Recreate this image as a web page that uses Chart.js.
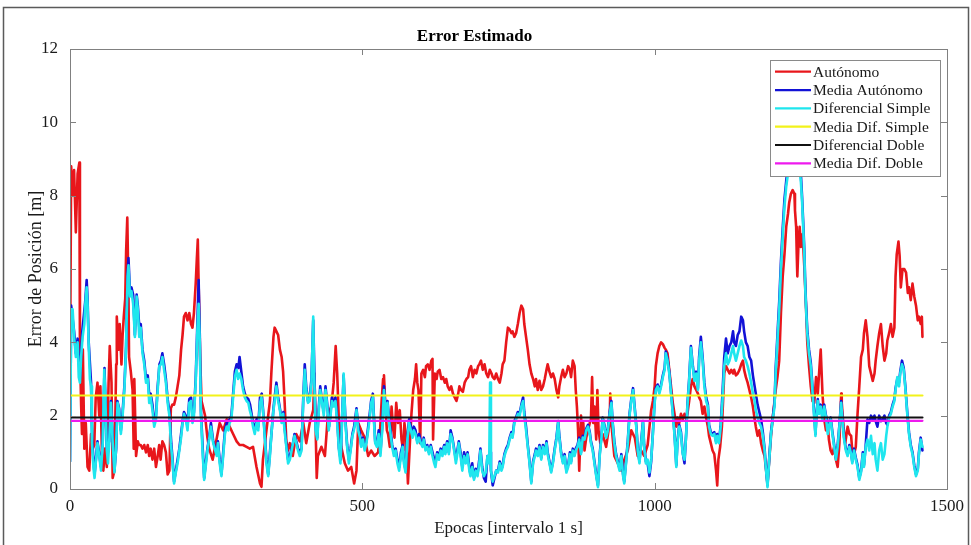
<!DOCTYPE html>
<html>
<head>
<meta charset="utf-8">
<script src="https://cdn.jsdelivr.net/npm/chart.js@4.4.1/dist/chart.umd.min.js"></script>
<style>
  html, body { margin: 0; padding: 0; background: #ffffff; }
  #wrap { width: 971px; height: 545px; }
</style>
</head>
<body>
<div id="wrap"><canvas id="grafico" width="971" height="545"></canvas></div>
<script>
// Error de posición por época: [época, error en metros]
const autonomo = [
  [0,3.1],[2,8.8],[4.5,8.0],[7,8.7],[10,7.0],[13,8.6],[16,8.9],[17,3.8],[19,2.3],[20.5,1.5],[22,3.8],[24.5,1.1],[27,1.8],[30,0.6],[33,0.5],[36,1.5],[39,1.1],[41.5,1.2],[44,2.5],[47,2.9],[50,2.0],[52,2.8],[55,0.7],[57,0.5],[60,1.1],[63,0.6],[66,2.9],[68,3.9],[71,2.9],[73,0.3],[76,0.5],[79,3.4],[80,4.7],[83,3.8],[85,4.5],[88,3.4],[90,4.2],[92,4.7],[94.5,5.2],[96,6.5],[98,7.4],[100,5.4],[101,3.6],[104,3.2],[107,2.7],[109,1.1],[110,3.0],[113,0.9],[116,1.3],[118,1.2],[121,1.2],[124,1.1],[127,1.2],[130,1.0],[133,1.2],[135.5,0.9],[138,1.1],[141,0.8],[144,1.1],[147,0.6],[150,0.9],[152.6,1.2],[155,0.8],[158,1.3],[161,1.2],[164,1.0],[167,0.4],[170,0.5],[172.5,2.2],[175,2.3],[178,2.3],[181,2.5],[184,2.8],[187,3.1],[190,3.8],[192.5,4.2],[195,4.7],[198,4.8],[201,4.6],[204,4.8],[207,4.5],[209.5,4.4],[212,4.8],[215,5.6],[217,6.3],[218.6,6.8],[220,5.6],[222.6,3.6],[225,2.4],[228,2.2],[231,2.0],[235,1.4],[238,1.1],[244,0.8],
  [250,1.3],[256,1.8],[262,1.6],[268,1.9],[273,1.7],[279,1.5],[285,1.3],[290,1.2],[296,1.2],[302,1.15],[307.5,1.1],[313,1.15],[319,0.6],[325,0.15],[327.5,0.06],[330,0.8],[336,1.6],[342,2.4],[344.5,3.2],[348,4.15],[350,4.4],[353,4.3],[356,4.2],[359,3.8],[362,3.6],[364.5,3.2],[367,2.4],[370,1.3],[373,1.05],[376,1.25],[381,0.9],[387,1.5],[393,1.3],[399,1.8],[404,1.25],[410,1.8],[416,2.15],[418,3.15],[422,0.3],[424,0.9],[430,1.15],[436,0.9],[441,2.0],[447,2.25],[451,2.9],[454.4,3.9],[457,3.15],[460,1.8],[464,1.15],[470,0.7],[475.5,0.5],[481,0.6],[486,0.15],[490,0.5],
  [493,1.8],[498,1.6],[504,1.4],[510,0.9],[515,1.05],[521,0.9],[527,1.0],[530,1.5],[533,2.4],[535.5,3.0],[537,3.1],[539.5,2.25],[542,1.6],[544,1.5],[547,1.15],[550,2.25],[553,1.6],[555,1.4],[558,2.35],[561,1.8],[564,2.15],[567,1.35],[570,1.05],[572,1.8],[575,1.4],[578,0.15],[581,1.15],[584,2.05],[587,2.7],[590,3.0],[592,3.4],[594,2.9],[596,2.7],[599,1.25],[601,3.15],[604,3.25],[607,3.05],[609,3.35],[612,3.4],[615,3.25],[618,3.5],[620,3.55],[621,1.35],[624,3.15],[627,3.0],[629,3.2],[632,3.25],[635,3.0],[638,3.05],[641,2.9],[643.5,3.0],[646,2.8],[649,2.7],[652,2.8],[655,2.6],[658,2.5],[661,2.4],[664,2.6],[666,2.8],[669,2.7],[672,2.65],[675,2.9],[678,3.0],[681,3.05],[683,3.25],[686,3.35],[689,3.05],[692,3.25],[695,3.15],[698,3.35],[700,3.4],[703,3.5],[706,3.25],[709,3.4],[712,3.15],[715,3.05],[718,3.25],[721,3.15],[723,3.05],[726,3.0],[729,3.15],[732,3.0],[735,2.9],[738,3.15],[740,3.4],
  [743,3.5],[746,4.0],[749,4.4],[752,4.35],[755,4.25],[757,4.3],[760,4.15],[763,4.25],[766,4.5],[769,4.8],[772,5.0],[775,4.9],[777,4.5],[780,4.15],[783,3.8],[786,3.4],[789,3.15],[792,3.0],[795,2.8],[797,3.0],[800,2.7],[803,2.95],[806,2.7],[809,2.8],[812,3.0],[815,3.25],[817,3.4],[820,3.2],[823,3.05],[826,3.15],[829,3.0],[832,2.7],[835,2.5],[837,2.8],[840,3.05],[843,3.25],[846,3.05],[849,3.15],[852,3.35],[855,3.25],[857,3.05],[860,3.5],[863,3.35],[865,2.7],[867,2.25],[869,1.6],[871,0.5],[874,2.0],[876,1.35],[878,1.8],[880,1.05],[883,1.4],[886,1.6],[889,1.8],[891,1.9],[893,3.05],[895,1.8],[897,2.25],[900,1.35],[902,2.7],[904,1.6],[907,1.25],[911,1.5],[917,1.15],[923,1.8],[924,2.6],[927,1.6],[931,0.9],[937,0.7],[943,0.5],[948,0.8],[954,1.05],[960,1.6],[966,1.4],[971,0.9],[977,1.05],[982,0.9],[988,1.2],
  [994,2.15],[997,2.4],[1000,2.8],[1002,3.35],[1005,3.7],[1008,3.9],[1011,4.0],[1014,3.95],[1017,3.85],[1019,3.8],[1022,3.7],[1025,3.25],[1028,2.8],[1031,2.35],[1034,2.05],[1037,1.7],[1039,1.95],[1042,1.8],[1045,2.05],[1048,1.9],[1051,2.05],[1054,1.9],[1056,2.05],[1059,2.4],[1062,2.8],[1065,3.0],[1068,2.8],[1071,2.7],[1074,2.6],[1076,2.5],[1079,2.4],[1082,2.05],[1085,2.25],[1088,1.95],[1091,1.7],[1093,1.45],[1096,1.25],[1099,1.05],[1102,0.95],[1105,0.5],[1107,0.1],[1109,0.8],[1112,1.15],[1115,1.7],[1117,2.4],[1119,3.15],[1122,3.35],[1125,3.25],[1128,3.15],[1131,3.25],[1134,3.15],[1136,3.25],[1139,3.1],[1142,3.15],[1145,3.25],[1148,3.4],[1151,3.5],[1153,3.25],[1156,3.05],[1159,2.9],[1162,2.7],[1165,2.5],[1168,2.25],[1171,1.9],[1173,1.7],[1176,1.45],[1179,1.6],[1182,1.25],[1185,1.05],[1188,0.9],[1190,0.6],[1193,0.15],[1196,0.8],[1199,1.45],[1202,1.95],[1205,2.4],[1207,2.7],[1210,3.05],[1213,3.5],[1216,4.8],[1219,5.8],[1222,6.4],[1225,7.15],[1228,7.5],[1230,7.8],[1233,8.05],[1236,8.15],
  [1239,8.05],[1240,7.6],[1242,7.15],[1243,6.4],[1244,5.8],[1246,6.7],[1248,7.15],[1250,6.6],[1253,6.95],[1256,6.05],[1259,4.9],[1261,4.0],[1264,3.35],[1267,2.8],[1270,2.4],[1273,2.35],[1276,3.05],[1279,2.6],[1282,3.35],[1284,3.8],[1287,2.6],[1290,1.9],[1293,1.6],[1296,1.8],[1298,1.35],[1301,1.05],[1304,0.95],[1307,1.15],[1310,0.8],[1313,0.6],[1316,1.25],[1319,2.6],[1320,2.35],[1323,1.7],[1326,1.25],[1330,1.7],[1333,1.5],[1336,1.45],[1338,1.05],[1341,0.95],[1344,1.15],[1347,2.05],[1350,2.8],[1353,3.6],[1356,3.8],[1358,4.25],[1361,4.6],[1364,4.15],[1367,3.35],[1370,3.15],[1373,2.95],[1376,3.15],[1378,3.5],[1381,3.9],[1384,4.25],[1387,4.5],[1390,3.9],[1393,3.5],[1396,3.7],[1398,4.05],[1401,4.25],[1404,4.5],[1407,4.15],[1410,4.4],[1412,5.8],[1414,6.4],[1417,6.75],[1419,6.35],[1421,5.5],[1424,6.0],[1427,6.0],[1430,5.9],[1433,5.35],[1435,5.5],[1438,5.15],[1441,5.6],[1444,5.25],[1447,5.0],[1450,4.6],[1452,4.7],[1455,4.5],[1457,4.7],[1458,4.15]
];

const mediaAutonomo = [
  [0,0.75],[2,5.0],[7,4.3],[10,3.7],[13,4.1],[17,3.0],[21,4.3],[26,5.1],[28.5,5.7],[30,5.2],[32,4.0],[36,2.9],[38,1.3],[42,0.4],[47,1.3],[53,0.6],[56,1.3],[59,3.3],[63,1.1],[67,1.3],[70,2.4],[73,1.3],[76,0.5],[79,1.1],[81,2.4],[84,2.2],[87,1.6],[90,2.1],[93,2.8],[96,3.9],[98.5,5.9],[100,6.3],[102.5,5.4],[105,5.5],[108,5.3],[111,4.2],[114,5.3],[116,5.0],[119,4.3],[121,4.5],[124,3.8],[127,3.5],[130,3.0],[133,3.1],[136,2.45],[138,2.6],[141,2.3],[144,1.8],[147,2.0],[150,2.8],[153,3.4],[155.5,3.5],[158,3.7],[161,3.4],[164,3.0],[167,2.45],[170,2.1],[173,1.3],[175,0.9],[178,0.2],[181,0.5],[184,0.8],[187,1.1],[190,1.5],[193,1.9],[195,2.1],[198,2.0],[201,1.7],[204,2.45],[207,2.5],[210,1.9],[212,2.1],[215,3.0],[218,4.6],[220,5.7],[222,4.2],[224,2.1],[227,1.1],[229.5,0.3],[232,0.7],[235,1.1],[238,1.4],[241,1.8],[245,1.3],
  [251,0.95],[253,1.3],[256,0.8],[259,0.4],[262,1.0],[265,1.6],[268,1.8],[273,1.9],[276,2.0],[279,2.6],[282,3.2],[285,3.4],[288,3.3],[290,3.6],[293,3.2],[296,2.8],[299,2.6],[302,2.5],[305,2.45],[308,2.3],[310,2.1],[313,1.8],[316,1.6],[319,1.9],[322,1.7],[325,2.5],[328,2.6],[330,2.2],[333,1.5],[336,0.8],[339,0.4],[342,1.0],[345,1.6],[348,2.2],[350,2.5],[353,2.9],[356,2.5],[359,2.2],[362,1.9],[365,2.1],[367,1.7],[370,1.2],[373,0.8],[376,0.9],[379,1.1],[382,1.3],[384,1.5],[387,1.3],[390,1.1],[393,1.0],[396,1.1],[399,2.5],[401.5,3.4],[404,2.8],[407,2.4],[410,2.5],[413,3.0],[416,4.6],[418,3.2],[420,1.7],[423,1.4],[425,2.1],[428,2.8],[431,2.4],[434,2.1],[437,2.8],[440,2.3],[443,1.7],[445,2.0],[448,2.5],[451,2.3],[454,2.5],[457,1.9],[460,1.1],[463,0.8],[465,1.8],[468,3.1],[471,1.9],[474,1.2],[477,0.8],[480,1.1],[483,1.5],[486,1.7],
  [490,2.2],[493,1.7],[496,1.5],[498,1.2],[501,1.4],[504,1.1],[507,1.3],[510,1.7],[513,2.1],[515,2.4],[518,2.6],[520,1.9],[522,1.3],[525,1.2],[528,1.6],[531,1.0],[534,1.7],[537,2.8],[540,2.1],[543,2.4],[546,1.9],[549,1.5],[551,1.2],[554,1.0],[557,1.1],[560,0.8],[563,0.6],[566,1.0],[569,1.2],[571,0.8],[574,0.5],[577,1.4],[580,1.9],[583,1.7],[586,1.5],[588,1.7],[591,1.6],[594,1.3],[597,1.5],[600,1.3],[603,1.2],[605,1.4],[608,1.1],[611,1.2],[614,1.0],[617,1.2],[620,1.0],[623,0.8],[625,0.7],[628,1.0],[631,0.9],[634,1.1],[637,1.0],[640,1.2],[642,1.0],[645,1.3],[648,1.0],[651,1.6],[654,1.4],[657,1.1],[660,0.8],[662,1.0],[665,1.3],[668,1.0],[671,0.6],[674,1.0],[677,0.8],[680,1.0],[683,0.6],[685,0.4],[688,0.7],[691,0.3],[694,0.55],[697,0.4],[700,0.8],[702,1.1],[705,0.6],[708,0.3],[711,0.2],[714,0.9],[717,0.8],[719,1.0],[720,0.5],[723,0.1],[726,0.3],[729,0.5],[732,0.5],[735,0.75],[738,0.55],
  [740,0.65],[743,0.95],[746,1.1],[749,1.2],[752,1.4],[755,1.55],[757,1.45],[760,1.85],[763,1.95],[766,2.1],[769,2.05],[772,2.3],[775,2.5],[777,2.1],[780,1.7],[783,1.2],[786,0.75],[789,0.2],[792,0.75],[795,0.95],[797,1.1],[800,0.95],[803,1.2],[806,0.85],[809,1.2],[812,1.0],[815,1.3],[817,1.0],[820,0.75],[823,0.5],[826,0.75],[829,1.1],[832,1.4],[835,1.85],[837,1.45],[840,1.0],[843,0.75],[846,0.95],[849,0.5],[852,0.65],[855,1.0],[857,0.75],[860,1.1],[863,0.95],[865,1.1],[868,1.2],[871,1.4],[874,1.0],[877,1.45],[880,1.4],[883,1.65],[886,1.75],[889,1.55],[891,1.3],[894,1.1],[897,0.75],[900,0.4],[903,0.1],[906,0.95],[909,1.45],[911,1.95],[914,1.75],[917,1.45],[920,1.65],[923,2.1],[926,2.4],[928,1.85],[931,1.3],[934,0.95],[937,0.75],[940,0.55],[943,0.95],[946,0.4],[948,0.2],[951,0.75],[954,1.3],[957,2.05],[960,2.45],[963,2.75],[966,2.2],[969,1.65],[971,1.1],[974,0.75],[977,1.3],[980,1.85],[982,1.2],[985,0.75],
  [988,0.7],[991,0.35],[994,0.75],[997,1.55],[1000,2.4],[1002,2.75],[1005,2.85],[1008,2.65],[1011,2.85],[1014,3.1],[1017,3.3],[1019,3.75],[1022,3.55],[1025,3.2],[1028,2.65],[1031,2.1],[1034,1.5],[1037,0.65],[1039,1.3],[1042,1.75],[1045,1.55],[1048,1.0],[1051,0.7],[1054,1.55],[1056,2.3],[1059,3.0],[1062,3.9],[1065,3.4],[1068,3.0],[1071,3.2],[1074,2.75],[1076,3.6],[1079,4.15],[1082,3.6],[1085,2.9],[1088,2.5],[1091,2.3],[1093,1.75],[1096,1.55],[1099,1.5],[1102,1.55],[1105,1.3],[1107,1.5],[1110,1.3],[1113,1.75],[1116,2.6],[1119,3.6],[1122,4.1],[1125,3.7],[1128,3.9],[1131,4.0],[1134,4.3],[1136,4.0],[1139,3.9],[1142,4.2],[1145,4.3],[1148,4.7],[1151,4.6],[1153,4.3],[1156,4.0],[1159,3.9],[1162,3.6],[1165,3.5],[1168,3.1],[1171,2.8],[1173,2.6],[1176,2.3],[1179,2.1],[1182,1.9],[1185,1.55],[1188,1.1],[1190,0.65],[1193,0.1],[1196,0.85],[1199,1.55],[1202,1.95],[1205,2.35],[1207,3.3],[1210,4.2],[1213,5.1],[1216,6.2],[1219,7.1],[1222,7.9],[1225,8.4],[1228,8.8],[1232,9.3],[1238,9.1],[1244,9.2],
  [1250,8.6],[1252,8.0],[1254,7.3],[1256,6.5],[1257.5,5.6],[1259,5.0],[1261,4.35],[1264,3.8],[1267,3.45],[1269,3.0],[1271,2.5],[1273,2.0],[1275,1.5],[1277,2.1],[1279,2.45],[1281,2.1],[1284,2.3],[1287,1.95],[1290,2.3],[1293,2.0],[1296,1.8],[1298,1.75],[1301,1.95],[1304,1.55],[1307,1.2],[1310,0.85],[1313,1.2],[1316,1.75],[1319,2.4],[1321,1.95],[1324,1.4],[1327,1.1],[1330,0.95],[1333,1.2],[1336,1.0],[1338,0.75],[1341,1.1],[1344,0.85],[1347,0.65],[1350,0.3],[1353,0.5],[1356,1.0],[1358,0.65],[1361,1.2],[1364,1.9],[1367,1.8],[1370,2.0],[1373,1.9],[1376,2.0],[1378,1.85],[1381,1.7],[1384,2.0],[1387,1.85],[1390,1.9],[1393,2.0],[1396,1.8],[1398,1.75],[1401,2.0],[1404,2.1],[1407,2.3],[1410,2.45],[1412,2.75],[1415,3.0],[1418,2.9],[1420,3.2],[1423,3.5],[1426,3.3],[1429,2.75],[1432,2.1],[1435,1.55],[1438,1.2],[1441,1.0],[1444,0.65],[1447,0.4],[1450,0.55],[1452,1.0],[1455,1.4],[1458,1.05]
];

const diferencialSimple = [
  [0,0.75],[2,4.9],[4.5,4.9],[7,4.15],[10,3.6],[13,4.0],[15,3.05],[17,2.9],[19,3.6],[21.6,4.15],[24.5,4.5],[26,5.0],[28.5,5.5],[30,5.05],[32,3.9],[34,3.0],[36,2.8],[37.6,1.25],[40,0.6],[42,0.3],[44,0.7],[47,1.25],[50,0.9],[53,0.5],[56,1.25],[58.6,3.25],[60,2.7],[63,1.05],[65,0.7],[67,1.25],[70,2.35],[73,1.25],[76,0.45],[78.6,1.05],[81.4,2.35],[84,2.15],[87,1.5],[90,2.0],[93,2.7],[95.7,3.8],[98.5,5.8],[100,6.1],[102.5,5.25],[105,5.4],[108,5.05],[111,4.15],[114,5.25],[116,4.9],[118.5,4.15],[121,4.4],[124,3.7],[127,3.4],[130,2.9],[133,3.0],[135.5,2.35],[138,2.5],[141,2.15],[144,1.7],[147,1.9],[150,2.7],[152.6,3.35],[155.5,3.4],[158,3.6],[161,3.25],[164,2.9],[167,2.35],[170,2.0],[172.5,1.25],[175,0.8],[178,0.15],[181,0.45],[184,0.7],[187,1.05],[190,1.4],[192.5,1.8],[195,2.05],[198,1.9],[201,1.6],[204,2.35],[207,2.4],[209.5,1.8],[212,2.0],[215,2.9],[218,4.4],[220,5.05],[222,4.0],[224,2.0],[226.6,1.05],[229.5,0.25],[232,0.6],[235,1.05],[238,1.35],[241,1.7],[244,1.35],
  [245,1.25],[251,0.9],[253,1.25],[256,0.7],[259,0.35],[262,0.9],[265,1.5],[268,1.7],[271,1.6],[273,1.8],[276,1.9],[279,2.5],[282,3.05],[285,3.25],[287.5,3.0],[290,3.15],[293,3.0],[296,2.7],[299,2.5],[302,2.4],[305,2.35],[307.5,2.15],[310,2.0],[313,1.7],[316,1.5],[319,1.8],[322,1.6],[325,2.35],[327.5,2.5],[330,2.15],[333,1.45],[336,0.7],[339,0.35],[342,0.9],[344.5,1.5],[348,2.15],[350,2.4],[353,2.8],[356,2.4],[359,2.15],[362,1.8],[364.5,2.05],[367,1.6],[370,1.15],[373,0.7],[376,0.8],[379,1.05],[381.5,1.25],[384,1.45],[387,1.25],[390,1.05],[393,0.9],[396,1.05],[399,2.4],[401.5,3.25],[404,2.7],[407,2.35],[410,2.4],[413,2.9],[416,4.7],[417.5,3.15],[420,1.6],[423,1.35],[425,2.0],[428,2.7],[431,2.35],[434,2.0],[437,2.7],[440,2.25],[442.5,1.6],[445,1.9],[448,2.4],[451,2.25],[454,2.4],[457,1.8],[460,1.05],[462.5,0.7],[465,1.7],[468,3.15],[471,1.8],[474,1.15],[477,0.7],[480,1.05],[483,1.45],[485.5,1.6],[488,1.8],
  [490,2.15],[493,1.6],[496,1.4],[498,1.15],[501,1.35],[504,1.05],[507,1.25],[510,1.6],[513,2.0],[515,2.35],[518,2.5],[520,1.8],[522,1.25],[525,1.15],[528,1.5],[531,0.9],[534,1.6],[537,2.7],[540,2.0],[543,2.35],[546,1.8],[549,1.4],[551,1.15],[554,0.9],[557,1.05],[560,0.7],[563,0.5],[566,0.9],[569,1.15],[571,0.7],[574,0.45],[577,1.35],[580,1.8],[583,1.6],[586,1.4],[588,1.6],[591,1.5],[594,1.25],[597,1.4],[600,1.25],[603,1.15],[605,1.35],[608,1.05],[611,1.15],[614,0.95],[617,1.15],[620,0.9],[623,0.7],[625,0.6],[628,0.95],[631,0.8],[634,1.05],[637,0.9],[640,1.15],[642,0.95],[645,1.25],[648,0.95],[651,1.5],[654,1.35],[657,1.05],[660,0.7],[662,0.9],[665,1.25],[668,0.9],[671,0.5],[674,0.9],[677,0.7],[680,0.95],[683,0.5],[685,0.35],[688,0.6],[691,0.25],[694,0.5],[697,0.35],[700,0.7],[702,1.05],[705,0.5],[708,0.35],[711,0.45],[714,0.9],[717,0.7],[718.5,2.9],[720,0.5],[723,0.2],[726,0.35],[729,0.5],[732,0.45],[735,0.7],[738,0.5],
  [740,0.6],[743,0.9],[746,1.05],[749,1.15],[752,1.35],[755,1.5],[757,1.4],[760,1.8],[763,1.9],[766,2.05],[769,2.0],[772,2.25],[775,2.4],[777,2.0],[780,1.6],[783,1.15],[786,0.7],[789,0.15],[792,0.7],[795,0.9],[797,1.05],[800,0.9],[803,1.15],[806,0.8],[809,1.15],[812,0.95],[815,1.25],[817,0.95],[820,0.7],[823,0.45],[826,0.7],[829,1.05],[832,1.35],[835,1.8],[837,1.4],[840,0.95],[843,0.7],[846,0.9],[849,0.45],[852,0.6],[855,0.95],[857,0.7],[860,1.05],[863,0.9],[865,1.05],[868,1.15],[871,1.35],[874,0.95],[877,1.4],[880,1.35],[883,1.6],[886,1.7],[889,1.5],[891,1.25],[894,1.05],[897,0.7],[900,0.35],[903,0.05],[906,0.9],[909,1.4],[911,1.9],[914,1.7],[917,1.4],[920,1.6],[923,2.05],[926,2.35],[928,1.8],[931,1.25],[934,0.9],[937,0.7],[940,0.5],[943,0.9],[946,0.35],[948,0.15],[951,0.7],[954,1.25],[957,2.0],[960,2.4],[963,2.7],[966,2.15],[969,1.6],[971,1.05],[974,0.7],[977,1.25],[980,1.8],[982,1.15],[985,0.7],
  [988,0.8],[991,0.45],[994,0.8],[997,1.5],[1000,2.35],[1002,2.7],[1005,2.8],[1008,2.6],[1011,2.8],[1014,3.05],[1017,3.25],[1019,3.7],[1022,3.5],[1025,3.15],[1028,2.6],[1031,2.05],[1034,1.45],[1037,0.6],[1039,1.25],[1042,1.7],[1045,1.5],[1048,0.95],[1051,0.8],[1054,1.5],[1056,2.25],[1059,2.95],[1062,3.85],[1065,3.35],[1068,2.95],[1071,3.15],[1074,2.7],[1076,3.5],[1079,4.0],[1082,3.5],[1085,2.8],[1088,2.4],[1091,2.25],[1093,1.7],[1096,1.5],[1099,1.45],[1102,1.5],[1105,1.25],[1107,1.45],[1110,1.25],[1113,1.7],[1116,2.4],[1119,3.35],[1122,3.7],[1125,3.4],[1128,3.5],[1131,3.7],[1134,3.9],[1136,3.7],[1139,3.5],[1142,3.7],[1145,3.9],[1148,4.05],[1151,3.9],[1153,3.6],[1156,3.5],[1159,3.35],[1162,3.15],[1165,2.9],[1168,2.6],[1171,2.4],[1173,2.15],[1176,1.95],[1179,1.8],[1182,1.7],[1185,1.45],[1188,1.05],[1190,0.6],[1193,0.05],[1196,0.8],[1199,1.5],[1202,1.9],[1205,2.25],[1207,3.15],[1210,4.05],[1213,4.9],[1216,6.0],[1219,6.9],[1222,7.7],[1225,8.25],[1228,8.6],[1234,9.1],[1240,8.9],[1246,9.0],
  [1250,8.4],[1252,7.9],[1254,7.15],[1256,6.4],[1257.5,5.5],[1259,4.9],[1261,4.25],[1264,3.7],[1267,3.35],[1269,2.9],[1271,2.4],[1273,1.9],[1275,1.45],[1277,2.05],[1279,2.4],[1281,2.05],[1284,2.25],[1287,1.9],[1290,2.25],[1293,1.95],[1296,1.5],[1298,1.7],[1301,1.9],[1304,1.5],[1307,1.15],[1310,0.8],[1313,1.15],[1316,1.7],[1319,2.35],[1321,1.9],[1324,1.35],[1327,1.05],[1330,0.9],[1333,1.15],[1336,0.95],[1338,0.7],[1341,1.05],[1344,0.8],[1347,0.6],[1350,0.25],[1353,0.45],[1356,0.95],[1358,0.6],[1361,1.15],[1364,1.35],[1367,1.05],[1370,1.45],[1373,0.95],[1376,1.25],[1378,0.8],[1381,0.5],[1384,1.05],[1387,1.25],[1390,0.8],[1393,0.95],[1396,1.45],[1398,1.7],[1401,1.95],[1404,2.05],[1407,2.25],[1410,2.4],[1412,2.7],[1415,3.05],[1418,2.8],[1420,3.15],[1423,3.4],[1426,3.25],[1429,2.7],[1432,2.05],[1435,1.5],[1438,1.15],[1441,0.95],[1444,0.6],[1447,0.35],[1450,0.5],[1452,0.95],[1455,1.35],[1458,1.15]
];

// Niveles constantes (medias) y extensión del registro
const mediaDifSimple = 2.55;
const diferencialDoble = 1.95;
const mediaDifDoble = 1.86;
const epocaInicial = 0;
const epocaFinal = 1458;

const ejeX = { min: 0, max: 1500, paso: 500 };
const ejeY = { min: 0, max: 12, paso: 2 };

const aPuntos = pares => pares.map(([x, y]) => ({ x, y }));
const constante = v => [{ x: epocaInicial, y: v }, { x: epocaFinal, y: v }];

const SERIF = "'Liberation Serif', 'Times New Roman', serif";

const lineaBase = { pointRadius: 0, pointHoverRadius: 0, tension: 0, fill: false, borderJoinStyle: 'round', borderCapStyle: 'round' };

const datasets = [
  { ...lineaBase, label: 'Autónomo', data: aPuntos(autonomo), borderColor: '#e8161b', borderWidth: 2.6, order: 6 },
  { ...lineaBase, label: 'Media Autónomo', data: aPuntos(mediaAutonomo), borderColor: '#1212d6', borderWidth: 2.6, order: 5 },
  { ...lineaBase, label: 'Diferencial Simple', data: aPuntos(diferencialSimple), borderColor: '#1fe6ee', borderWidth: 2.6, order: 4 },
  { ...lineaBase, label: 'Media Dif. Simple', data: constante(mediaDifSimple), borderColor: '#f2f21a', borderWidth: 2.2, order: 3 },
  { ...lineaBase, label: 'Diferencial Doble', data: constante(diferencialDoble), borderColor: '#111111', borderWidth: 2.2, order: 2 },
  { ...lineaBase, label: 'Media Dif. Doble', data: constante(mediaDifDoble), borderColor: '#ee1aee', borderWidth: 2.2, order: 1 }
];

// Marco de la figura, caja de ejes con marcas interiores y leyenda
const estiloMatlab = {
  id: 'estiloMatlab',
  beforeDraw(chart) {
    const c = chart.ctx;
    c.save();
    c.fillStyle = '#ffffff';
    c.fillRect(0, 0, chart.width, chart.height);
    c.strokeStyle = '#5a5a5a';
    c.lineWidth = 1.5;
    c.strokeRect(3.5, 7.5, chart.width - 6, chart.height + 20);
    c.restore();
  },
  afterDatasetsDraw(chart) {
    const c = chart.ctx;
    const a = chart.chartArea;
    const sx = chart.scales.x, sy = chart.scales.y;
    c.save();
    c.strokeStyle = '#808080';
    c.lineWidth = 1;
    c.strokeRect(Math.round(a.left) + 0.5, Math.round(a.top) + 0.5, Math.round(a.right - a.left), Math.round(a.bottom - a.top));
    const L = 6;
    c.beginPath();
    sx.ticks.forEach(t => {
      const px = Math.round(sx.getPixelForValue(t.value)) + 0.5;
      c.moveTo(px, a.bottom); c.lineTo(px, a.bottom - L);
      c.moveTo(px, a.top); c.lineTo(px, a.top + L);
    });
    sy.ticks.forEach(t => {
      const py = Math.round(sy.getPixelForValue(t.value)) + 0.5;
      c.moveTo(a.left, py); c.lineTo(a.left + L, py);
      c.moveTo(a.right, py); c.lineTo(a.right - L, py);
    });
    c.stroke();
    c.restore();
  },
  afterDraw(chart) {
    const c = chart.ctx;
    const a = chart.chartArea;
    const w = 170, h = 116;
    const x0 = Math.round(a.right) - 177, y0 = Math.round(a.top) + 11;
    c.save();
    c.fillStyle = '#ffffff';
    c.fillRect(x0, y0, w, h);
    c.strokeStyle = '#8a8a8a';
    c.lineWidth = 1;
    c.strokeRect(x0 + 0.5, y0 + 0.5, w, h);
    c.font = '15.5px ' + SERIF;
    c.textBaseline = 'middle';
    c.textAlign = 'left';
    chart.data.datasets.forEach((ds, i) => {
      const y = y0 + 11.7 + i * 18.33;
      c.strokeStyle = ds.borderColor;
      c.lineWidth = 2.2;
      c.beginPath();
      c.moveTo(x0 + 5, y);
      c.lineTo(x0 + 41, y);
      c.stroke();
      c.fillStyle = '#1a1a1a';
      c.fillText(ds.label, x0 + 43, y + 1);
    });
    c.restore();
  }
};

new Chart(document.getElementById('grafico'), {
  type: 'line',
  data: { datasets },
  plugins: [estiloMatlab],
  options: {
    responsive: false,
    animation: false,
    events: [],
    layout: { padding: { left: 0, right: 22, top: 0, bottom: 0 } },
    plugins: {
      legend: { display: false },
      tooltip: { enabled: false },
      title: {
        display: true,
        text: 'Error Estimado',
        color: '#000000',
        font: { family: SERIF, size: 17, weight: 'bold', lineHeight: 1.2 },
        padding: { top: 26.6, bottom: 2 }
      }
    },
    scales: {
      x: {
        type: 'linear',
        min: ejeX.min, max: ejeX.max,
        grid: { display: false, drawTicks: false },
        border: { display: false },
        ticks: { stepSize: ejeX.paso, color: '#1a1a1a', font: { family: SERIF, size: 17 }, padding: 7, maxRotation: 0, callback: v => String(v) },
        title: { display: true, text: 'Epocas [intervalo 1 s]', color: '#1a1a1a', font: { family: SERIF, size: 17, lineHeight: 1.2 }, padding: { top: 0, bottom: 6 } },
        afterFit(scale) { scale.height = 56; }
      },
      y: {
        min: ejeY.min, max: ejeY.max,
        grid: { display: false, drawTicks: false },
        border: { display: false },
        ticks: { stepSize: ejeY.paso, color: '#1a1a1a', font: { family: SERIF, size: 17 }, padding: 12, callback: v => String(v) },
        title: { display: true, text: 'Error de Posición [m]', color: '#1a1a1a', font: { family: SERIF, size: 18, lineHeight: 1.2 }, padding: { top: 25.5, bottom: 0 } },
        afterFit(scale) { scale.width = 70; }
      }
    }
  }
});
</script>
</body>
</html>
